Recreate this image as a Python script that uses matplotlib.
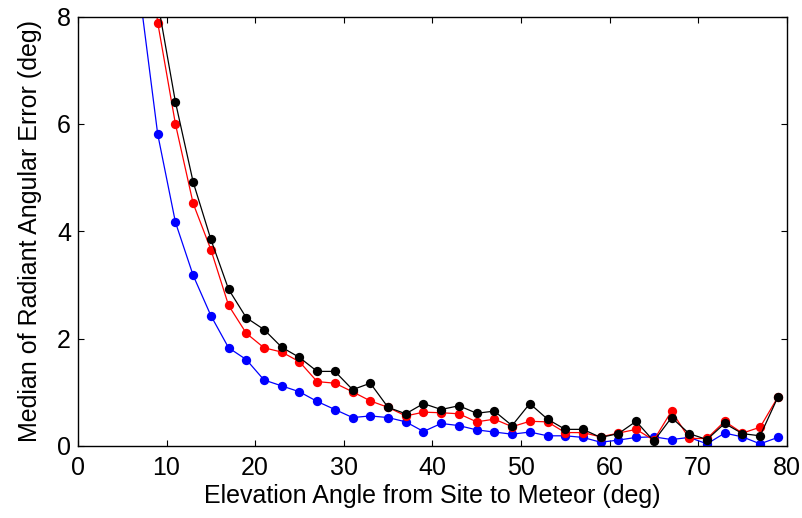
import matplotlib

matplotlib.use("Agg")
import matplotlib.pyplot as plt

# elevation bins (deg); x=7 values lie above the axis and only show as line stubs
elevation = [7, 9, 11, 13, 15, 17, 19, 21, 23, 25, 27, 29, 31, 33, 35, 37, 39,
             41, 43, 45, 47, 49, 51, 53, 55, 57, 59, 61, 63, 65, 67, 69, 71,
             73, 75, 77, 79]

blue_err = [8.4, 5.81, 4.17, 3.18, 2.43, 1.83, 1.61, 1.23, 1.12, 1.01, 0.83,
            0.68, 0.53, 0.56, 0.53, 0.45, 0.27, 0.42, 0.38, 0.30, 0.26, 0.22,
            0.26, 0.19, 0.19, 0.16, 0.07, 0.11, 0.16, 0.17, 0.12, 0.16, 0.04,
            0.24, 0.17, 0.04, 0.16]

red_err = [10.5, 7.89, 6.00, 4.52, 3.66, 2.62, 2.10, 1.83, 1.75, 1.57, 1.20,
           1.17, 1.01, 0.84, 0.72, 0.56, 0.63, 0.62, 0.60, 0.45, 0.50, 0.36,
           0.46, 0.45, 0.25, 0.25, 0.17, 0.24, 0.31, 0.11, 0.65, 0.14, 0.14,
           0.46, 0.24, 0.35, 0.91]

black_err = [11.0, 8.28, 6.41, 4.92, 3.85, 2.92, 2.39, 2.17, 1.84, 1.65, 1.39,
             1.39, 1.05, 1.17, 0.72, 0.60, 0.79, 0.68, 0.75, 0.61, 0.65, 0.38,
             0.79, 0.50, 0.31, 0.31, 0.16, 0.23, 0.46, 0.09, 0.53, 0.23, 0.12,
             0.42, 0.23, 0.19, 0.91]

plt.rcParams["font.family"] = ["Liberation Sans", "DejaVu Sans"]

fig = plt.figure(figsize=(8.03, 5.18), dpi=100)
ax = fig.add_axes([0.0971, 0.139, 0.8826, 0.8289])

for vals, col in [(blue_err, "#0000ff"), (red_err, "#ff0000"), (black_err, "#000000")]:
    ax.plot(elevation, vals, color=col, lw=0.9, marker="o", ms=6.7,
            markeredgewidth=0)

ax.set_xlim(0, 80)
ax.set_ylim(0, 8)
ax.set_xticks(range(0, 81, 10))
ax.set_yticks(range(0, 9, 2))
ax.tick_params(direction="in", top=True, right=True, length=4, width=0.8,
               labelsize=18)
ax.tick_params(axis="x", pad=7)
ax.tick_params(axis="y", pad=5)
for s in ax.spines.values():
    s.set_linewidth(1.0)

ax.set_xlabel("Elevation Angle from Site to Meteor (deg)", fontsize=18, labelpad=3)
ax.set_ylabel("Median of Radiant Angular Error (deg)", fontsize=18, labelpad=11)

plt.savefig("out.png", dpi=100)
plt.close()
